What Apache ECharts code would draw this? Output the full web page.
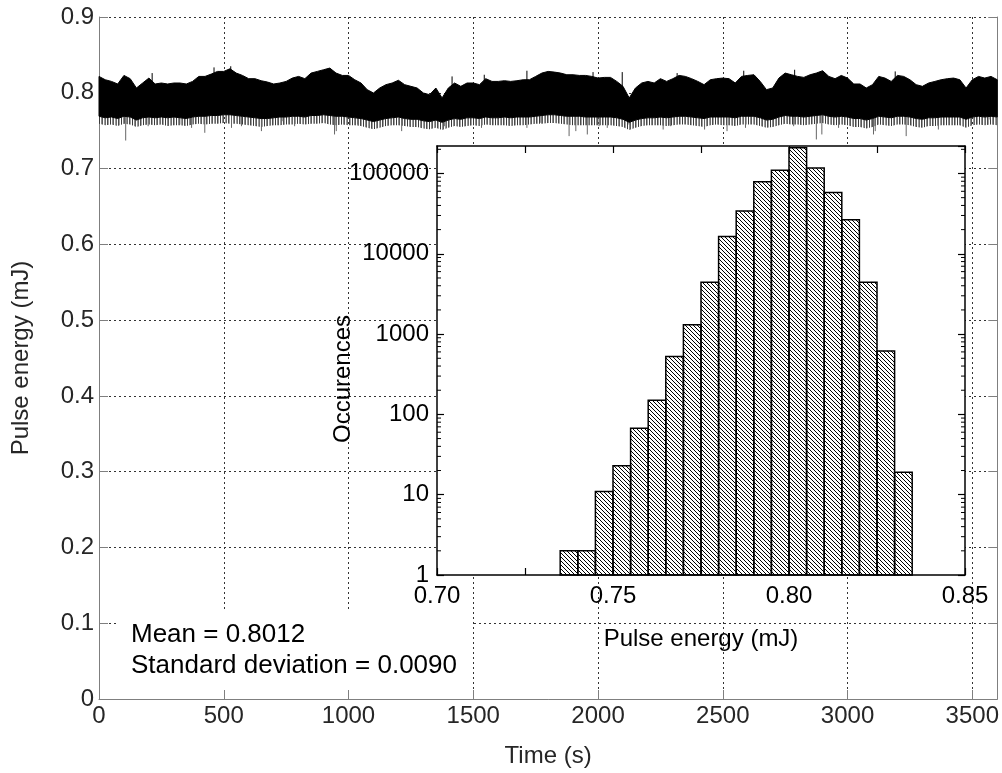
<!DOCTYPE html>
<html><head><meta charset="utf-8">
<script src="https://cdn.jsdelivr.net/npm/echarts@6/dist/echarts.min.js"></script>
<style>html,body{margin:0;padding:0;background:#fff}#c{width:1002px;height:773px}</style>
</head><body><div id="c"></div>
<script>
// ---- time series (envelopes, 25 s bins) ----
const timeSec = [0,25,50,75,100,125,150,175,200,225,250,275,300,325,350,375,400,425,450,475,
500,525,550,575,600,625,650,675,700,725,750,775,800,825,850,875,900,925,950,975,
1000,1025,1050,1075,1100,1125,1150,1175,1200,1225,1250,1275,1300,1325,1350,1375,1400,1425,1450,1475,
1500,1525,1550,1575,1600,1625,1650,1675,1700,1725,1750,1775,1800,1825,1850,1875,1900,1925,1950,1975,
2000,2025,2050,2075,2100,2125,2150,2175,2200,2225,2250,2275,2300,2325,2350,2375,2400,2425,2450,2475,
2500,2525,2550,2575,2600,2625,2650,2675,2700,2725,2750,2775,2800,2825,2850,2875,2900,2925,2950,2975,
3000,3025,3050,3075,3100,3125,3150,3175,3200,3225,3250,3275,3300,3325,3350,3375,3400,3425,3450,3475,
3500,3525,3550,3575,3600];
const bandHigh = [0.8216,0.8172,0.8150,0.8116,0.8229,0.8186,0.8063,0.8129,0.8194,0.8116,
0.8129,0.8116,0.8129,0.8129,0.8116,0.8150,0.8216,0.8216,0.8247,0.8282,
0.8282,0.8317,0.8260,0.8229,0.8186,0.8186,0.8159,0.8142,0.8116,0.8129,
0.8150,0.8194,0.8216,0.8186,0.8260,0.8282,0.8304,0.8326,0.8260,0.8229,
0.8229,0.8172,0.8129,0.8041,0.7997,0.8063,0.8107,0.8129,0.8165,
0.8107,0.8085,0.8063,0.7997,0.7975,0.8063,0.7932,0.8063,0.8129,0.8085,
0.8129,0.8129,0.8107,0.8186,0.8150,0.8150,0.8159,0.8150,0.8159,0.8172,
0.8172,0.8216,0.8260,0.8282,0.8273,0.8260,0.8238,0.8238,0.8229,0.8229,
0.8216,0.8194,0.8203,0.8203,0.8150,0.8085,0.7932,0.8063,0.8129,0.8150,
0.8129,0.8186,0.8150,0.8186,0.8229,0.8216,0.8186,0.8150,
0.8107,0.8172,0.8186,0.8194,0.8186,0.8129,0.8216,0.8229,0.8238,0.8150,
0.8041,0.8063,0.8194,0.8260,0.8238,0.8216,0.8203,0.8238,0.8260,0.8291,
0.8216,0.8186,0.8229,0.8194,0.8116,0.8116,0.8063,0.8107,0.8216,0.8194,
0.8150,0.8229,0.8216,0.8172,0.8107,0.8085,0.8129,0.8150,0.8172,0.8186,
0.8194,0.8172,0.8063,0.8172,0.8216,0.8194,0.8216,0.8172];
const bandLow = [0.769,0.767,0.768,0.766,0.769,0.768,0.764,0.767,0.768,0.767,
0.768,0.767,0.768,0.767,0.766,0.768,0.769,0.769,0.770,0.770,
0.771,0.771,0.770,0.769,0.768,0.767,0.766,0.766,0.767,0.768,
0.768,0.769,0.769,0.768,0.770,0.770,0.771,0.770,0.769,0.769,
0.768,0.767,0.766,0.764,0.762,0.764,0.766,0.767,0.768,
0.766,0.765,0.765,0.763,0.762,0.764,0.761,0.764,0.766,0.765,
0.767,0.767,0.766,0.768,0.767,0.767,0.768,0.767,0.768,0.768,
0.768,0.769,0.770,0.771,0.771,0.770,0.769,0.769,0.769,0.768,
0.768,0.768,0.768,0.768,0.767,0.765,0.761,0.764,0.766,0.767,
0.767,0.768,0.767,0.768,0.769,0.769,0.768,0.767,
0.766,0.768,0.768,0.768,0.768,0.767,0.769,0.769,0.769,0.767,
0.764,0.765,0.768,0.770,0.769,0.769,0.768,0.769,0.770,0.771,
0.769,0.768,0.769,0.768,0.766,0.766,0.764,0.766,0.769,0.768,
0.767,0.769,0.769,0.768,0.766,0.765,0.767,0.767,0.768,0.768,
0.768,0.768,0.765,0.768,0.769,0.768,0.769,0.768];
const fringeLow = [0.759,0.757,0.758,0.756,0.759,0.758,0.755,0.757,0.758,0.757,
0.758,0.756,0.757,0.757,0.756,0.758,0.759,0.758,0.759,0.759,
0.760,0.759,0.759,0.758,0.757,0.756,0.755,0.756,0.757,0.757,
0.758,0.758,0.759,0.758,0.759,0.759,0.760,0.758,0.757,0.758,
0.757,0.757,0.756,0.754,0.752,0.754,0.756,0.757,0.757,
0.756,0.755,0.755,0.753,0.752,0.754,0.751,0.754,0.756,0.755,
0.756,0.757,0.756,0.758,0.757,0.757,0.757,0.756,0.757,0.757,
0.758,0.759,0.759,0.760,0.760,0.759,0.758,0.757,0.757,0.757,
0.757,0.757,0.757,0.757,0.756,0.755,0.751,0.754,0.756,0.757,
0.757,0.757,0.756,0.757,0.758,0.758,0.757,0.756,
0.755,0.757,0.758,0.757,0.757,0.756,0.758,0.758,0.758,0.756,
0.754,0.755,0.757,0.759,0.758,0.758,0.757,0.758,0.759,0.760,
0.758,0.757,0.758,0.757,0.755,0.755,0.753,0.755,0.758,0.757,
0.756,0.758,0.758,0.757,0.755,0.754,0.756,0.756,0.757,0.757,
0.757,0.757,0.754,0.757,0.758,0.757,0.758,0.757];
const lowSpikeTime = [107,197,324,371,424,531,571,651,737,784,944,951,1037,
1213,1384,1533,1715,1771,1884,1911,1957,2004,2037,2124,2261,2291,
2427,2517,2591,2784,2875,2897,2964,3104,3111,3235,3364,3451,3571];
const lowSpikeValue = [0.7370,0.7559,0.7581,0.7537,0.7472,0.7537,0.7559,0.7494,0.7625,0.7559,0.7450,0.7494,0.7581,
0.7494,0.7559,0.7537,0.7537,0.7603,0.7428,0.7494,0.7450,0.7559,0.7537,0.7581,0.7515,0.7559,
0.7515,0.7494,0.7537,0.7559,0.7384,0.7450,0.7537,0.7450,0.7494,0.7428,0.7515,0.7581,0.7647];
const highSpikeTime = [213,461,528,1415,1544,1715,1980,2097,2317,2584,2788,3191];
const highSpikeValue = [0.8260,0.8335,0.8350,0.8216,0.8238,0.8291,0.8273,0.8273,0.8260,0.8291,0.8304,0.8282];
const spikeBase = 0.790;

// ---- inset histogram ----
const binStart = [0.735,0.740,0.745,0.750,0.755,0.760,0.765,0.770,0.775,0.780,
0.785,0.790,0.795,0.800,0.805,0.810,0.815,0.820,0.825,0.830];
const binWidth = 0.005;
const binCount = [2,2,11,23,67,150,525,1306,4425,16450,34100,78700,110000,209000,117000,57900,26600,4430,614,19];
const logMinorTicks = [2,3,4,5,6,7,8,9,20,30,40,50,60,70,80,90,200,300,400,500,600,700,800,900,
2000,3000,4000,5000,6000,7000,8000,9000,20000,30000,40000,50000,60000,70000,80000,90000,200000];

const statsText = 'Mean = 0.8012\nStandard deviation = 0.0090';

const FONT = 'Liberation Sans, Arial, sans-serif';

function hatchCanvas() {
  const c = document.createElement('canvas'); c.width = 4; c.height = 4;
  const g = c.getContext('2d'); g.fillStyle = '#000';
  for (let i = 0; i < 4; i++) g.fillRect(i, i, 1, 1);
  return c;
}
function fringeCanvas() {
  const shades = ['#3a3a3a', null, '#8a8a8a', '#5a5a5a', null, '#9a9a9a', '#6a6a6a', null, '#4a4a4a', '#a0a0a0', null];
  const c = document.createElement('canvas'); c.width = shades.length; c.height = 2;
  const g = c.getContext('2d');
  shades.forEach((s, i) => { if (s) { g.fillStyle = s; g.fillRect(i, 0, 1, 2); } });
  return c;
}
const hatch = { image: hatchCanvas(), repeat: 'repeat' };
const fringe = { image: fringeCanvas(), repeat: 'repeat' };

function polygonBetween(lowArr, highArr, style) {
  return function (params, api) {
    if (params.dataIndex !== 0) return null;
    const pts = [];
    for (let i = 0; i < timeSec.length; i++) pts.push(api.coord([timeSec[i], highArr[i]]));
    for (let i = timeSec.length - 1; i >= 0; i--) pts.push(api.coord([timeSec[i], lowArr[i]]));
    return { type: 'polygon', shape: { points: pts }, style: style };
  };
}
function spikeRenderer(color) {
  return function (params, api) {
    const a = api.coord([api.value(0), api.value(1)]);
    const b = api.coord([api.value(0), spikeBase]);
    return { type: 'line', shape: { x1: a[0], y1: a[1], x2: b[0], y2: b[1] },
      style: { stroke: color, lineWidth: 1 } };
  };
}

const chart = echarts.init(document.getElementById('c'), null, { renderer: 'canvas' });
const mainGridLine = { show: true, lineStyle: { color: '#333', width: 1, type: [2, 3] } };
const greyAxis = { show: true, lineStyle: { color: '#7f7f7f', width: 1 } };
const greyTick = { show: true, inside: true, length: 9, lineStyle: { color: '#7f7f7f' } };
const mainLabel = { fontSize: 24, color: '#262626', fontFamily: FONT };
const inAxis = { show: true, lineStyle: { color: '#000', width: 1.5 } };
const inTick = { show: true, inside: true, length: 7, lineStyle: { color: '#000', width: 1.2 } };

chart.setOption({
  animation: false,
  textStyle: { fontFamily: FONT },
  grid: [
    { left: 99, right: 4, top: 17, bottom: 71, containLabel: false },
    { left: 437, right: 37, top: 146, bottom: 198, show: true, backgroundColor: '#fff', borderWidth: 0, z: 3 }
  ],
  xAxis: [
    { gridIndex: 0, type: 'value', min: 0, max: 3600, interval: 500,
      axisLine: greyAxis, axisTick: greyTick, splitLine: mainGridLine,
      axisLabel: Object.assign({ margin: 5, showMaxLabel: false, formatter: v => String(v) }, mainLabel),
      name: 'Time (s)', nameLocation: 'middle', nameGap: 45, nameTextStyle: mainLabel },
    { gridIndex: 1, type: 'value', min: 0.70, max: 0.85, interval: 0.025, z: 4,
      axisLine: inAxis, axisTick: inTick, splitLine: { show: false },
      axisLabel: { margin: 9, fontSize: 24, color: '#000', fontFamily: FONT,
        formatter: v => (Math.round(v * 1000) % 50 === 0 ? v.toFixed(2) : '') },
      name: 'Pulse energy (mJ)', nameLocation: 'middle', nameGap: 52,
      nameTextStyle: { fontSize: 24, color: '#000', fontFamily: FONT } },
    { gridIndex: 1, type: 'value', min: 0.70, max: 0.85, interval: 0.025, position: 'top', z: 4,
      axisLine: inAxis, axisTick: inTick, splitLine: { show: false }, axisLabel: { show: false } }
  ],
  yAxis: [
    { gridIndex: 0, type: 'value', min: 0, max: 0.9, interval: 0.1,
      axisLine: greyAxis, axisTick: greyTick, splitLine: mainGridLine,
      axisLabel: Object.assign({ margin: 5, formatter: v => (v === 0 ? '0' : v.toFixed(1)) }, mainLabel),
      name: 'Pulse energy (mJ)', nameLocation: 'middle', nameGap: 66, nameTextStyle: mainLabel },
    { gridIndex: 0, type: 'value', min: 0, max: 0.9, interval: 0.1, position: 'right',
      axisLine: greyAxis, axisTick: greyTick, splitLine: { show: false }, axisLabel: { show: false } },
    { gridIndex: 1, type: 'log', logBase: 10, min: 1, max: 220000, z: 4,
      axisLine: inAxis, axisTick: inTick, splitLine: { show: false },
      axisLabel: { margin: 8, fontSize: 24, color: '#000', fontFamily: FONT, showMaxLabel: false,
        formatter: v => String(Math.round(v)) } },
    { gridIndex: 1, type: 'log', logBase: 10, min: 1, max: 220000, position: 'right', z: 4,
      axisLine: inAxis, axisTick: inTick, splitLine: { show: false }, axisLabel: { show: false } }
  ],
  series: [
    { type: 'custom', xAxisIndex: 0, yAxisIndex: 0, z: 2, silent: true,
      data: timeSec.map((t, i) => [t, fringeLow[i]]),
      renderItem: polygonBetween(fringeLow, bandLow, { fill: fringe }) },
    { type: 'custom', xAxisIndex: 0, yAxisIndex: 0, z: 2, silent: true,
      data: lowSpikeTime.map((t, i) => [t, lowSpikeValue[i]]),
      renderItem: spikeRenderer('#666') },
    { type: 'custom', xAxisIndex: 0, yAxisIndex: 0, z: 3, silent: true,
      data: timeSec.map((t, i) => [t, bandHigh[i]]),
      renderItem: polygonBetween(bandLow, bandHigh, { fill: '#000', stroke: '#000', lineWidth: 1 }) },
    { type: 'custom', xAxisIndex: 0, yAxisIndex: 0, z: 3, silent: true,
      data: highSpikeTime.map((t, i) => [t, highSpikeValue[i]]),
      renderItem: spikeRenderer('#000') },
    { type: 'custom', xAxisIndex: 1, yAxisIndex: 2, z: 5, silent: true,
      data: binStart.map((s, i) => [s, binCount[i]]),
      renderItem: function (params, api) {
        const s = api.value(0);
        const p0 = api.coord([s, api.value(1)]);
        const p1 = api.coord([s + binWidth, 1]);
        return { type: 'rect', shape: { x: p0[0], y: p0[1], width: p1[0] - p0[0], height: p1[1] - p0[1] },
          style: { fill: hatch, stroke: '#000', lineWidth: 1.5 } };
      } },
    { type: 'custom', xAxisIndex: 1, yAxisIndex: 2, z: 5, silent: true,
      data: logMinorTicks.map(v => [0.70, v]),
      renderItem: function (params, api) {
        const v = api.value(1);
        const l = api.coord([0.70, v]);
        const r = api.coord([0.85, v]);
        return { type: 'group', children: [
          { type: 'line', shape: { x1: l[0], y1: l[1], x2: l[0] + 4, y2: l[1] }, style: { stroke: '#000', lineWidth: 1 } },
          { type: 'line', shape: { x1: r[0] - 4, y1: r[1], x2: r[0], y2: r[1] }, style: { stroke: '#000', lineWidth: 1 } }
        ] };
      } }
  ],
  graphic: [
    { type: 'rect', z: 10, shape: { x: 117, y: 610, width: 355, height: 79 }, style: { fill: '#fff' } },
    { type: 'text', z: 11, x: 131, y: 619,
      style: { text: statsText, font: '26px ' + FONT, fill: '#000', lineHeight: 31, verticalAlign: 'top', align: 'left' } },
    { type: 'text', z: 11, x: 343, y: 379, rotation: Math.PI / 2,
      style: { text: 'Occurences', font: '24px ' + FONT, fill: '#000', align: 'center', verticalAlign: 'middle' } }
  ]
});
</script>
</body></html>
